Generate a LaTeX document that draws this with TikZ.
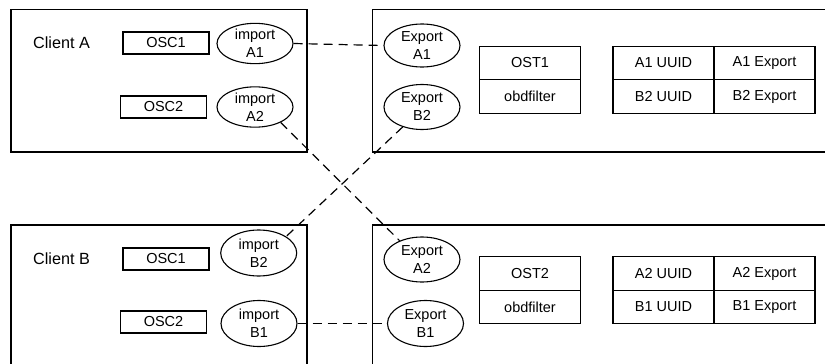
\documentclass[tikz,border=0pt]{standalone}
\usepackage{fontspec}
\setmainfont{Liberation Sans}
\usetikzlibrary{shapes.geometric}
\begin{document}
\begin{tikzpicture}[x=1pt,y=-1pt,
  every node/.style={font=\fontsize{14.5}{18}\selectfont},
  bigbox/.style={draw,line width=1.5pt},
  label/.style={anchor=west,inner sep=0pt,font=\fontsize{16.2}{19}\selectfont},
  oscbox/.style={draw,line width=1.2pt,minimum width=86pt,minimum height=22pt,inner sep=0pt},
  ell/.style={draw,ellipse,line width=1.1pt,minimum width=76pt,minimum height=43pt,inner sep=0pt,align=center},
  cell/.style={draw,line width=1.2pt,minimum width=101pt,minimum height=33.5pt,inner sep=0pt,outer sep=0pt},
  link/.style={line width=1.2pt,dash pattern=on 9pt off 6pt}]
\clip (0,0) rectangle (825,364);
\fill[white] (0,0) rectangle (825,364);
% big boxes
\draw[bigbox] (11,9.5) rectangle (307,152);
\draw[bigbox] (372.5,9.5) rectangle (840,152);
\draw[bigbox] (11,225) rectangle (307,380);
\draw[bigbox] (372.5,225) rectangle (840,380);
% client A
\node[label] (ca) at (33,43) {Client A};
\node[oscbox] (aosc1) at (166,43) {OSC1};
\node[oscbox] (aosc2) at (163.5,107) {OSC2};
\node[ell,minimum height=40pt] (iA1) at (255,43.5) {import\\A1};
\node[ell,minimum height=40pt] (iA2) at (255,107) {import\\A2};
% server 1
\node[ell] (eA1) at (422,45.5) {Export\\A1};
\node[ell,minimum height=45pt] (eB2) at (422,107) {Export\\B2};
\node[cell] (ost1) at (530,63) {OST1};
\node[cell] (obd1) at (530,96.5) {obdfilter};
\node[cell] (u11) at (663.5,63) {A1 UUID};
\node[cell] (x11) at (764.5,63) {A1 Export};
\node[cell] (u12) at (663.5,96.5) {B2 UUID};
\node[cell] (x12) at (764.5,96.5) {B2 Export};
% client B
\node[label] (cb) at (33,259) {Client B};
\node[oscbox] (bosc1) at (166,259) {OSC1};
\node[oscbox] (bosc2) at (163.5,322) {OSC2};
\node[ell,minimum height=46pt] (iB2) at (258.7,253) {import\\B2};
\node[ell,minimum height=46pt] (iB1) at (259,323.5) {import\\B1};
% server 2
\node[ell,minimum height=45pt] (eA2) at (422,259.5) {Export\\A2};
\node[ell,minimum height=46pt] (eB1) at (425.5,323.5) {Export\\B1};
\node[cell] (ost2) at (530,273.5) {OST2};
\node[cell] (obd2) at (530,307) {obdfilter};
\node[cell] (u21) at (663.5,273.5) {A2 UUID};
\node[cell] (x21) at (764.5,273.5) {A2 Export};
\node[cell] (u22) at (663.5,307) {B1 UUID};
\node[cell] (x22) at (764.5,307) {B1 Export};
% links
\draw[link] (iA1.east) -- (eA1.west);
\draw[link] (iA2.-31) -- (eA2.140);
\draw[link] (eB2.-134) -- (iB2.31);
\draw[link] (iB1.east) -- (eB1.west);
\end{tikzpicture}
\end{document}
